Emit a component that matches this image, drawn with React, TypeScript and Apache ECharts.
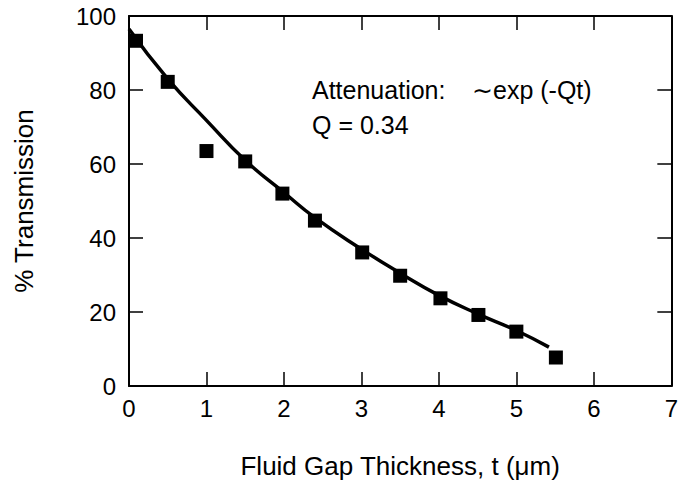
import React, { useEffect, useRef } from "react";
import * as echarts from "echarts";

const measuredX = [0.09, 0.5, 1.0, 1.5, 1.98, 2.4, 3.01, 3.5, 4.02, 4.51, 5.0, 5.51];
const measuredY = [93.3, 82.2, 63.5, 60.7, 52.0, 44.7, 36.1, 29.8, 23.7, 19.2, 14.7, 7.7];

const fitX = [0, 0.5, 1.0, 1.5, 2.0, 2.4, 3.0, 3.5, 4.0, 4.5, 5.0, 5.42];
const fitY = [96.5, 83.0, 71.8, 61.0, 52.3, 45.5, 37.0, 30.5, 24.5, 19.5, 15.0, 10.5];

const xTicks = [0, 1, 2, 3, 4, 5, 6, 7];
const yTicks = [0, 20, 40, 60, 80, 100];

const FONT = "Liberation Sans, Arial, Helvetica, sans-serif";

export default function App() {
  const ref = useRef<HTMLDivElement>(null);
  useEffect(() => {
    if (!ref.current) return;
    const chart = echarts.init(ref.current, undefined, { renderer: "svg" });
    const axisLine = { show: true, onZero: false, lineStyle: { color: "#000", width: 2 } };
    const tick = { show: true, inside: true, length: 14, lineStyle: { color: "#000", width: 1.5 } };
    chart.setOption({
      animation: false,
      backgroundColor: "#fff",
      grid: { left: 129, right: 6, top: 16, bottom: 103, containLabel: false },
      xAxis: [
        {
          type: "value",
          min: xTicks[0],
          max: xTicks[xTicks.length - 1],
          interval: 1,
          position: "bottom",
          axisLine,
          axisTick: tick,
          splitLine: { show: false },
          axisLabel: { color: "#000", fontSize: 24, fontFamily: FONT, margin: 10 },
          name: "Fluid Gap Thickness, t (\u03bcm)",
          nameLocation: "middle",
          nameGap: 67,
          nameTextStyle: { color: "#000", fontSize: 26, fontFamily: FONT },
        },
        {
          type: "value",
          min: xTicks[0],
          max: xTicks[xTicks.length - 1],
          interval: 1,
          position: "top",
          axisLine,
          axisTick: tick,
          splitLine: { show: false },
          axisLabel: { show: false },
        },
      ],
      yAxis: [
        {
          type: "value",
          min: yTicks[0],
          max: yTicks[yTicks.length - 1],
          interval: 20,
          position: "left",
          axisLine,
          axisTick: tick,
          splitLine: { show: false },
          axisLabel: { color: "#000", fontSize: 24, fontFamily: FONT, margin: 13 },
          name: "% Transmission",
          nameLocation: "middle",
          nameRotate: 90,
          nameGap: 92,
          nameTextStyle: { color: "#000", fontSize: 26, fontFamily: FONT },
        },
        {
          type: "value",
          min: yTicks[0],
          max: yTicks[yTicks.length - 1],
          interval: 20,
          position: "right",
          axisLine,
          axisTick: tick,
          splitLine: { show: false },
          axisLabel: { show: false },
        },
      ],
      series: [
        {
          type: "line",
          data: fitX.map((x, i) => [x, fitY[i]]),
          smooth: true,
          showSymbol: false,
          symbol: "none",
          lineStyle: { color: "#000", width: 3.5 },
          z: 2,
        },
        {
          type: "scatter",
          data: measuredX.map((x, i) => [x, measuredY[i]]),
          symbol: "rect",
          symbolSize: 14,
          itemStyle: { color: "#000", opacity: 1 },
          z: 3,
        },
      ],
      graphic: [
        {
          type: "text",
          left: 312,
          top: 77,
          style: { text: "Attenuation:", fill: "#000", fontSize: 25, fontFamily: FONT },
        },
        {
          type: "text",
          left: 472,
          top: 77,
          style: { text: "\u223cexp (-Qt)", fill: "#000", fontSize: 25, fontFamily: FONT },
        },
        {
          type: "text",
          left: 312,
          top: 112,
          style: { text: "Q = 0.34", fill: "#000", fontSize: 25, fontFamily: FONT },
        },
      ],
    });
    return () => chart.dispose();
  }, []);
  return <div ref={ref} style={{ width: 681, height: 489, position: "absolute", left: 0, top: 0 }} />;
}
